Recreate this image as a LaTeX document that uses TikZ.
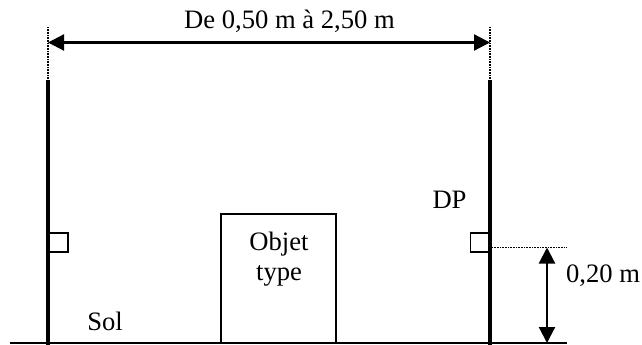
\documentclass[tikz,border=0pt]{standalone}
\usepackage{fontspec}
\setmainfont{Liberation Serif}
\usetikzlibrary{arrows.meta}
\tikzset{
  lbl/.style={inner sep=0pt,anchor=base,font=\fontsize{26.6}{31}\selectfont},
  pole/.style={line width=4pt,line cap=butt},
  ground/.style={line width=2pt},
  guide/.style={line width=1.4pt,dash pattern=on 1pt off 0.6pt},
  dim/.style={line width=2.2pt,{Triangle[length=16pt,width=16pt]}-{Triangle[length=16pt,width=16pt]},shorten <=0pt,shorten >=0pt},
  tick/.style={draw,fill=white,line width=1.4pt,inner sep=0pt,minimum width=19pt,minimum height=19pt},
  objbox/.style={draw,fill=white,line width=1.6pt,inner sep=0pt,minimum width=115pt,minimum height=129pt}
}
\begin{document}
\begin{tikzpicture}[x=1pt,y=-1pt]
\useasboundingbox (0,0) rectangle (642,345);
\coordinate (gl) at (10,343);
\coordinate (gr) at (567,343);
\coordinate (ltop) at (48,80);
\coordinate (lbot) at (48,345);
\coordinate (rtop) at (490,80);
\coordinate (rbot) at (490,345);
\coordinate (lguide) at (48,27);
\coordinate (rguide) at (490,27);
\coordinate (da) at (48,42.5);
\coordinate (db) at (490,42.5);
\coordinate (hs) at (492,247.5);
\coordinate (he) at (566,247.5);
\coordinate (va) at (547,247.5);
\coordinate (vb) at (547,343);
\node[objbox] (obj) at (278.5,278.5) {};
\draw[ground] (gl) -- (gr);
\node[tick] (sl) at (58.5,242.5) {};
\node[tick] (sr) at (480,242.5) {};
\draw[pole] (ltop) -- (lbot);
\draw[pole] (rtop) -- (rbot);
\draw[guide] (lguide) -- (ltop);
\draw[guide] (rguide) -- (rtop);
\draw[guide] (hs) -- (he);
\draw[dim] (da) -- (db);
\draw[dim] (va) -- (vb);
\node[lbl] (t1) at (289.5,29) {De 0,50 m à 2,50 m};
\node[lbl] (t2) at (449.5,208) {DP};
\node[lbl] (t3) at (603,282) {0,20 m};
\node[lbl] (t4) at (105,330) {Sol};
\node[lbl] (t5) at (279,250) {Objet};
\node[lbl] (t6) at (279,280) {type};
\end{tikzpicture}
\end{document}
